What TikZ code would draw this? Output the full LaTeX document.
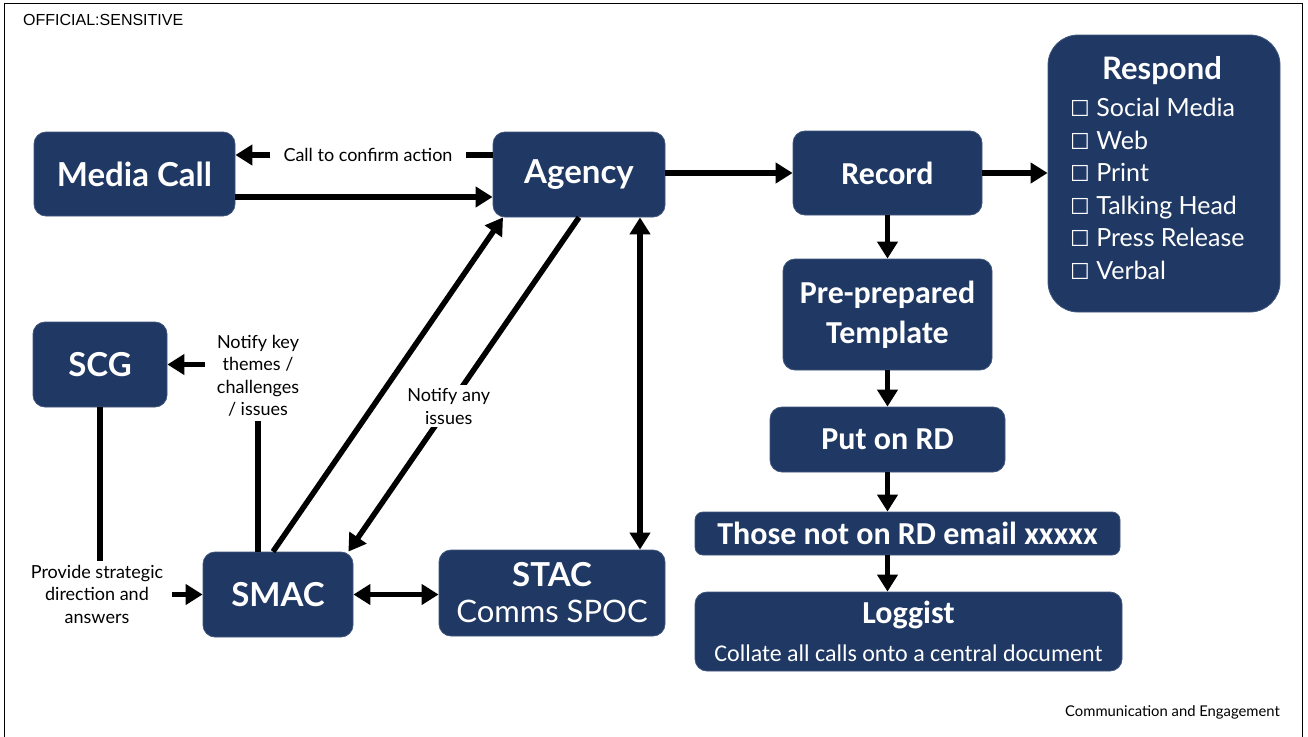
\documentclass[tikz,border=0pt]{standalone}
\usepackage{fontspec}
\setmainfont{Lato}
\newfontfamily\gill{Lato}
\newfontfamily\calib{Carlito}
\newfontfamily\hdr{Liberation Sans}
\newfontfamily\dvs{DejaVu Sans}
\usetikzlibrary{arrows.meta}
\definecolor{navy}{HTML}{1F3864}
\tikzset{
  box/.style={fill=navy, draw=navy!85!white, line width=0.8pt, rounded corners=12pt, text=white, align=center, inner sep=0pt},
  gb/.style={font={\gill\bfseries\fontsize{33}{38}\selectfont}},
  cb/.style={font={\calib\bfseries\fontsize{32}{40}\selectfont}},
  lbl/.style={fill=white, align=center, inner sep=3pt, font={\gill\fontsize{18}{22.5}\selectfont}},
  >={Triangle[length=17pt,width=20pt]},
  conn/.style={line width=5.5pt},
  arr/.style={line width=5.5pt, ->},
  darr/.style={line width=5.5pt, <->}
}
\begin{document}
\begin{tikzpicture}[x=1pt,y=-1pt]
\useasboundingbox (0,0) rectangle (1308,736);
\draw[line width=1.8pt] (4.5,3.5) rectangle (1302.5,760);
\node[anchor=west, inner sep=0pt, font={\hdr\fontsize{16}{18}\selectfont}] (hd) at (23,20) {OFFICIAL:SENSITIVE};
\node[anchor=east, inner sep=0pt, font={\gill\fontsize{14.8}{17}\selectfont}] (ft) at (1280,712) {Communication and Engagement};

% boxes
\node[box, gb, minimum width=201pt, minimum height=84pt] (media) at (134.5,174) {Media Call};
\node[box, gb, minimum width=172pt, minimum height=85pt] (agency) at (579,174.5) {Agency};
\node[box, cb, minimum width=189pt, minimum height=84pt] (record) at (887.5,173) {Record};
\node[box, rounded corners=30pt, minimum width=232pt, minimum height=277pt] (respond) at (1164,173.5) {};
\node[text=white, font={\gill\bfseries\fontsize{31}{36}\selectfont}] (respondt) at (1162,71) {Respond};
\node[text=white, anchor=west, align=left, inner sep=0pt, font={\gill\fontsize{25}{32.5}\selectfont}] (respondl) at (1070,189)
  {{\dvs\fontsize{22}{32.5}\selectfont ☐} Social Media\\{\dvs\fontsize{22}{32.5}\selectfont ☐} Web\\{\dvs\fontsize{22}{32.5}\selectfont ☐} Print\\{\dvs\fontsize{22}{32.5}\selectfont ☐} Talking Head\\{\dvs\fontsize{22}{32.5}\selectfont ☐} Press Release\\{\dvs\fontsize{22}{32.5}\selectfont ☐} Verbal};
\node[box, cb, minimum width=209pt, minimum height=111pt] (pre) at (887.5,314.5) {Pre-prepared\\Template};
\node[box, cb, minimum width=235pt, minimum height=65pt] (put) at (887.5,439.5) {Put on RD};
\node[box, cb, rounded corners=8pt, minimum width=425pt, minimum height=43pt] (those) at (907.5,533.5) {Those not on RD email xxxxx};
\node[box, cb, minimum width=427pt, minimum height=79pt] (loggist) at (908.5,631.5) {Loggist\\[-2pt]{\calib\mdseries\fontsize{24}{28}\selectfont Collate all calls onto a central document}};
\node[box, gb, minimum width=134pt, minimum height=85pt] (scg) at (100,364.5) {SCG};
\node[box, gb, minimum width=150pt, minimum height=85pt] (smac) at (278,594.5) {SMAC};
\node[box, gb, minimum width=226pt, minimum height=86pt] (stac) at (552,593) {STAC\\[-2pt]{\gill\mdseries\fontsize{31}{36}\selectfont Comms SPOC}};

% top row
\node[lbl, inner xsep=13pt] (cc) at (368,155) {Call to confirm action};
\draw[conn] (agency.west |- cc.east) -- (cc.east);
\draw[arr] (cc.west) -- (cc.west -| media.east);
\draw[arr] ([yshift=-23pt]media.east) -- ([yshift=-23pt]media.east -| agency.west);
\draw[arr] (agency.east |- record.west) -- (record.west);
\draw[arr] (record.east) -- (record.east -| respond.west);

% right column
\draw[arr] (record.south) -- (pre.north);
\draw[arr] (pre.south) -- (put.north);
\draw[arr] (put.south) -- (put.south |- those.north);
\draw[arr] (put.south |- those.south) -- (put.south |- loggist.north);

% left side
\node[lbl, minimum width=106pt, inner ysep=4pt] (nk) at (258,376) {Notify key\\themes /\\challenges\\/ issues};
\draw[conn] (nk.south |- smac.north) -- (nk.south);
\draw[arr] (nk.west |- scg.east) -- (scg.east);

\node[lbl, minimum width=150pt, inner ysep=4pt] (ps) at (97,594) {Provide strategic\\direction and\\answers};
\draw[conn] (scg.south) -- (scg.south |- ps.north);
\draw[arr] (ps.east |- smac.west) -- (smac.west);

\draw[arr] ([xshift=-5pt]smac.north) -- ([xshift=-76pt]agency.south);
\draw[arr] (agency.south) -- node[lbl, pos=0.565] (ni) {Notify any\\issues} ([xshift=-5pt]smac.north east);
\draw[darr] ([xshift=61pt]agency.south) -- ([xshift=61pt]agency.south |- stac.north);
\draw[darr] (smac.east) -- (smac.east -| stac.west);
\end{tikzpicture}
\end{document}
